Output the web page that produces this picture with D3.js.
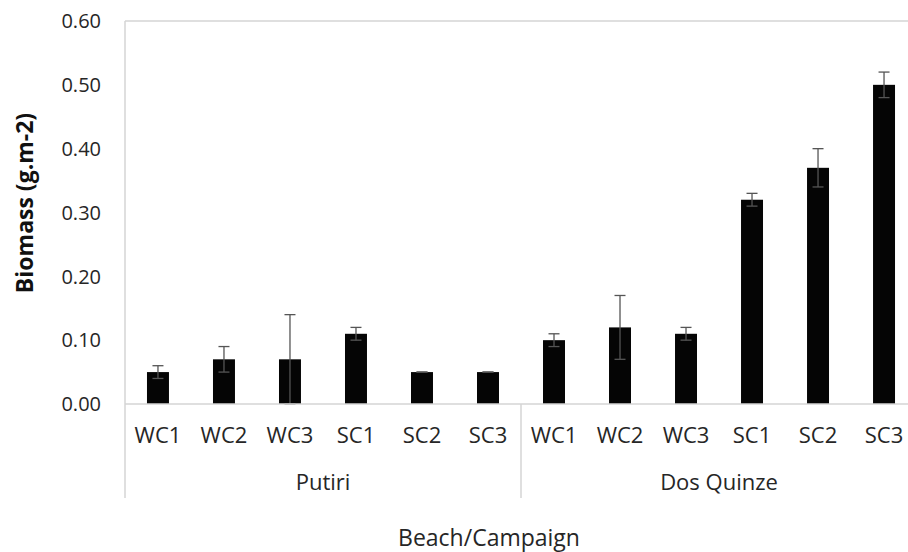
<!DOCTYPE html>
<html>
<head>
<meta charset="utf-8">
<script src="https://cdn.jsdelivr.net/npm/d3@7"></script>
<style>
  html, body { margin: 0; padding: 0; background: #fff; }
  svg { display: block; font-family: "Open Sans", sans-serif; }
</style>
</head>
<body>
<div id="chart"></div>
<script>
// Biomass by beach and campaign, with error bars
const beaches = ['Putiri', 'Dos Quinze']
const campaigns = ['WC1', 'WC2', 'WC3', 'SC1', 'SC2', 'SC3']
const putiriValues = [0.05, 0.07, 0.07, 0.11, 0.05, 0.05]
const putiriErrors = [0.01, 0.02, 0.07, 0.01, 0, 0]
const dosQuinzeValues = [0.10, 0.12, 0.11, 0.32, 0.37, 0.50]
const dosQuinzeErrors = [0.01, 0.05, 0.01, 0.01, 0.03, 0.02]
const yTicks = [0, 0.1, 0.2, 0.3, 0.4, 0.5, 0.6]

const records = [
  ...campaigns.map((c, i) => ({ beach: beaches[0], campaign: c, value: putiriValues[i], err: putiriErrors[i] })),
  ...campaigns.map((c, i) => ({ beach: beaches[1], campaign: c, value: dosQuinzeValues[i], err: dosQuinzeErrors[i] }))
]
records.forEach(r => { r.key = `${r.beach}|${r.campaign}` })

const width = 908
const height = 552
const margin = { top: 21, right: -9, bottom: 148, left: 125 }
const inner = { w: width - margin.left - margin.right, h: height - margin.top - margin.bottom }
const axisColor = '#d4d4d4'
const textColor = '#262626'

const svg = d3.select('#chart').append('svg')
  .attr('width', width).attr('height', height)

const g = svg.append('g').attr('transform', `translate(${margin.left},${margin.top})`)

const x = d3.scaleBand().domain(records.map(r => r.key)).range([0, inner.w]).paddingInner(0.667).paddingOuter(0.333)
const y = d3.scaleLinear().domain([0, 0.6]).range([inner.h, 0])

// Frame: top line and left axis line
g.append('line').attr('x1', 0).attr('x2', inner.w).attr('y1', 0).attr('y2', 0)
  .attr('stroke', axisColor).attr('stroke-width', 1.5)
g.append('line').attr('x1', 0).attr('x2', 0).attr('y1', 0).attr('y2', inner.h)
  .attr('stroke', axisColor).attr('stroke-width', 1.5)

// Y tick labels
g.append('g').selectAll('text').data(yTicks).join('text')
  .attr('x', -24).attr('y', d => y(d)).attr('dy', '0.36em')
  .attr('text-anchor', 'end').attr('fill', textColor)
  .style('font-size', '20px')
  .text(d => d.toFixed(2))

// Bars
g.append('g').selectAll('rect').data(records).join('rect')
  .attr('x', d => x(d.key)).attr('width', x.bandwidth())
  .attr('y', d => y(d.value)).attr('height', d => inner.h - y(d.value))
  .attr('fill', '#050505')

// Error bars
const eb = g.append('g').attr('stroke', '#555').attr('stroke-width', 1.3)
records.forEach(d => {
  const cx = x(d.key) + x.bandwidth() / 2
  const hi = y(d.value + d.err)
  const lo = y(d.value - d.err)
  eb.append('line').attr('x1', cx).attr('x2', cx).attr('y1', hi).attr('y2', lo)
  eb.append('line').attr('x1', cx - 5.5).attr('x2', cx + 5.5).attr('y1', hi).attr('y2', hi)
  eb.append('line').attr('x1', cx - 5.5).attr('x2', cx + 5.5).attr('y1', lo).attr('y2', lo)
})

// Baseline
g.append('line').attr('x1', 0).attr('x2', inner.w).attr('y1', inner.h).attr('y2', inner.h)
  .attr('stroke', axisColor).attr('stroke-width', 1.5)

// Campaign labels
g.append('g').selectAll('text').data(records).join('text')
  .attr('x', d => x(d.key) + x.bandwidth() / 2).attr('y', inner.h + 39)
  .attr('text-anchor', 'middle').attr('fill', textColor)
  .style('font-size', '22px')
  .text(d => d.campaign)

// Group separators and beach labels
const groupW = inner.w / beaches.length
beaches.forEach((b, i) => {
  g.append('line').attr('x1', i * groupW).attr('x2', i * groupW)
    .attr('y1', inner.h).attr('y2', inner.h + 94)
    .attr('stroke', axisColor).attr('stroke-width', 1.5)
  g.append('text').attr('x', i * groupW + groupW / 2).attr('y', inner.h + 86)
    .attr('text-anchor', 'middle').attr('fill', textColor)
    .style('font-size', '22px').text(b)
})

// Axis titles
svg.append('text').attr('x', 489).attr('y', 546)
  .attr('text-anchor', 'middle').attr('fill', textColor)
  .style('font-size', '23px').text('Beach/Campaign')

svg.append('text').attr('transform', 'translate(33,203) rotate(-90)')
  .attr('text-anchor', 'middle').attr('fill', '#111')
  .style('font-size', '23px').style('font-weight', '700')
  .text('Biomass (g.m-2)')
</script>
</body>
</html>
